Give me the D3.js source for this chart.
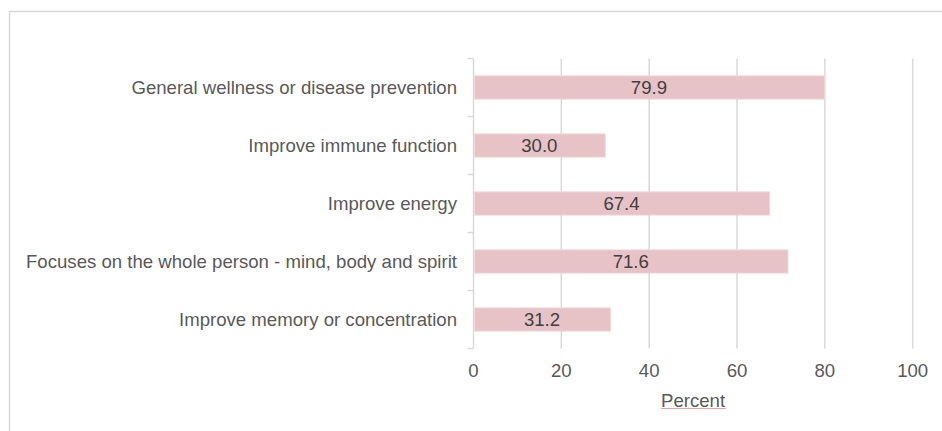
<!DOCTYPE html>
<html><head><meta charset="utf-8">
<script src="https://cdn.jsdelivr.net/npm/d3@7"></script>
<style>html,body{margin:0;padding:0;background:#fff;}svg{display:block;}</style>
</head><body>
<svg id="chart" width="942" height="431"></svg>
<script>
const categories = [
  "General wellness or disease prevention",
  "Improve immune function",
  "Improve energy",
  "Focuses on the whole person - mind, body and spirit",
  "Improve memory or concentration"
];
const values = [79.9, 30.0, 67.4, 71.6, 31.2];
const xTicks = [0, 20, 40, 60, 80, 100];
const xTitle = "Percent";

const svg = d3.select("#chart");
const font = "'Liberation Sans', Arial, sans-serif";
const fs = 18.6;

// outer border (cropped at right and bottom)
svg.append("rect").attr("x", 9.5).attr("y", 11.5).attr("width", 1200).attr("height", 1200)
  .attr("fill", "none").attr("stroke", "#d9d9d9").attr("stroke-width", 1.5);

const x = d3.scaleLinear().domain([0, 100]).range([473.5, 912.7]);
const y = d3.scaleBand().domain(categories).range([58.5, 348.5]).paddingInner(0.6).paddingOuter(0.3);
const yTop = 58.5, yBot = 348.5;

// gridlines
svg.append("g").selectAll("line").data(xTicks.filter(d => d > 0)).join("line")
  .attr("x1", d => x(d)).attr("x2", d => x(d)).attr("y1", yTop).attr("y2", yBot)
  .attr("stroke", "#d9d9d9").attr("stroke-width", 1.5);

// y axis line and ticks at category boundaries
svg.append("line").attr("x1", x(0)).attr("x2", x(0)).attr("y1", yTop).attr("y2", yBot)
  .attr("stroke", "#d9d9d9").attr("stroke-width", 1.5);
const step = (yBot - yTop) / categories.length;
svg.append("g").selectAll("line").data(d3.range(categories.length + 1)).join("line")
  .attr("x1", x(0) - 6).attr("x2", x(0)).attr("y1", i => yTop + i * step).attr("y2", i => yTop + i * step)
  .attr("stroke", "#d9d9d9").attr("stroke-width", 1.5);

// bars
svg.append("g").selectAll("rect").data(values).join("rect")
  .attr("x", x(0) + 1).attr("y", (d, i) => y(categories[i]))
  .attr("width", d => x(d) - x(0) - 1).attr("height", y.bandwidth())
  .attr("fill", "#e7c2c6").attr("stroke", "#f1d8da").attr("stroke-width", 1);

// value labels
svg.append("g").selectAll("text").data(values).join("text")
  .attr("x", d => (x(0) + x(d)) / 2).attr("y", (d, i) => y(categories[i]) + y.bandwidth() / 2)
  .attr("dy", "0.35em").attr("text-anchor", "middle")
  .attr("font-family", font).attr("font-size", fs).attr("fill", "#404040")
  .text(d => d.toFixed(1));

// category labels
svg.append("g").selectAll("text").data(categories).join("text")
  .attr("x", 457).attr("y", d => y(d) + y.bandwidth() / 2).attr("dy", "0.35em")
  .attr("text-anchor", "end").attr("font-family", font).attr("font-size", fs).attr("fill", "#595959")
  .text(d => d);

// x tick labels
svg.append("g").selectAll("text").data(xTicks).join("text")
  .attr("x", d => x(d)).attr("y", 377).attr("text-anchor", "middle")
  .attr("font-family", font).attr("font-size", fs).attr("fill", "#595959")
  .text(d => d);

// x title
const tx = (x(0) + x(100)) / 2;
const t = svg.append("text").attr("x", tx).attr("y", 406.5).attr("text-anchor", "middle")
  .attr("font-family", font).attr("font-size", fs).attr("fill", "#595959").text(xTitle);
const bb = t.node().getBBox();
svg.append("line").attr("x1", bb.x).attr("x2", bb.x + bb.width).attr("y1", 408.5).attr("y2", 408.5)
  .attr("stroke", "#f0a0a0").attr("stroke-width", 1);
</script>
</body></html>
